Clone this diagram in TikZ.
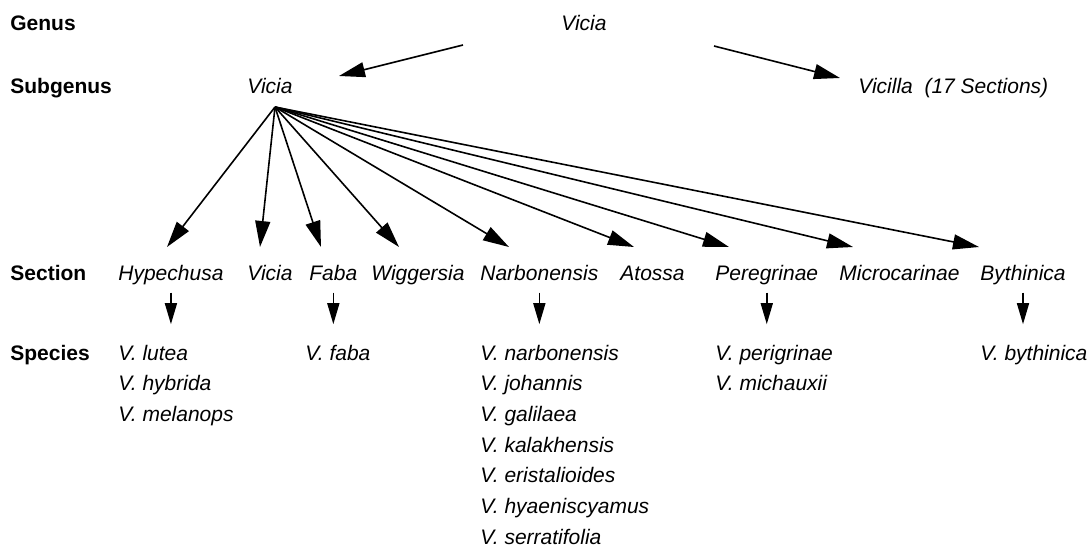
\documentclass[tikz,border=0pt]{standalone}
\usepackage{fontspec}
\setmainfont{Liberation Sans}
\usetikzlibrary{arrows.meta}
\tikzset{
  rank/.style={font=\fontsize{10.5}{12}\selectfont\bfseries, anchor=base west, inner sep=0pt},
  taxon/.style={font=\fontsize{10.5}{12}\selectfont\itshape, anchor=base west, inner sep=0pt,
    text height=0.72em, text depth=0.21em},
  bigarrow/.style={-{Triangle[length=13pt,width=7.5pt]}, line width=0.8pt},
  smallarrow/.style={-{Triangle[length=10.5pt,width=6pt]}, line width=0.8pt,
    shorten <=4pt, shorten >=10.5pt},
}
\begin{document}
\begin{tikzpicture}[x=0.5pt,y=-0.5pt]
  \useasboundingbox (0,0) rectangle (1088,546);

  % Ranks
  \node[rank] (lgenus) at (10,31) {Genus};
  \node[rank] (lsub) at (10,93) {Subgenus};
  \node[rank] (lsec) at (10,280) {Section};
  \node[rank] (lspc) at (10,360) {Species};

  % Genus and subgenera
  \node[taxon] (genus) at (561,31) {Vicia};
  \node[taxon] (sub) at (247,93) {Vicia};
  \node[taxon] (vicilla) at (858,93) {Vicilla\ \ (17 Sections)};
  \coordinate (gl-out) at (463,45);
  \coordinate (gl-in) at (339,76);
  \coordinate (gr-out) at (714,46);
  \coordinate (gr-in) at (840,78);
  \draw[bigarrow] (gl-out) -- (gl-in);
  \draw[bigarrow] (gr-out) -- (gr-in);

  % Sections
  \foreach \n/\x/\t in {hyp/118/Hypechusa, vic/247/Vicia, fab/309/Faba, wig/371/Wiggersia,
      nar/480/Narbonensis, ato/620/Atossa, per/715/Peregrinae, mic/839/Microcarinae,
      byt/980/Bythinica}
    \node[taxon] (\n) at (\x,280) {\t};

  \coordinate (fan) at (275,107);
  \foreach \n/\x in {hyp/167, vic/260, fab/321, wig/399, nar/509, ato/634, per/729,
      mic/853, byt/979}
  {
    \coordinate (\n-in) at (\x,247);
    \draw[bigarrow] (fan) -- (\n-in);
  }

  % Species
  \foreach \s [count=\i] in {lutea, hybrida, melanops}
    \node[taxon] (hyp-\i) at (118,329.3+30.7*\i) {V. \s};
  \node[taxon] (fab-1) at (305,360) {V. faba};
  \foreach \s [count=\i] in {narbonensis, johannis, galilaea, kalakhensis, eristalioides,
      hyaeniscyamus, serratifolia}
    \node[taxon] (nar-\i) at (480,329.3+30.7*\i) {V. \s};
  \foreach \s [count=\i] in {perigrinae, michauxii}
    \node[taxon] (per-\i) at (715,329.3+30.7*\i) {V. \s};
  \node[taxon] (byt-1) at (980,360) {V. bythinica};

  \foreach \n in {hyp, fab, nar, per, byt}
    \draw[smallarrow] (\n.south) -- (\n.south |- \n-1.north);
\end{tikzpicture}
\end{document}
